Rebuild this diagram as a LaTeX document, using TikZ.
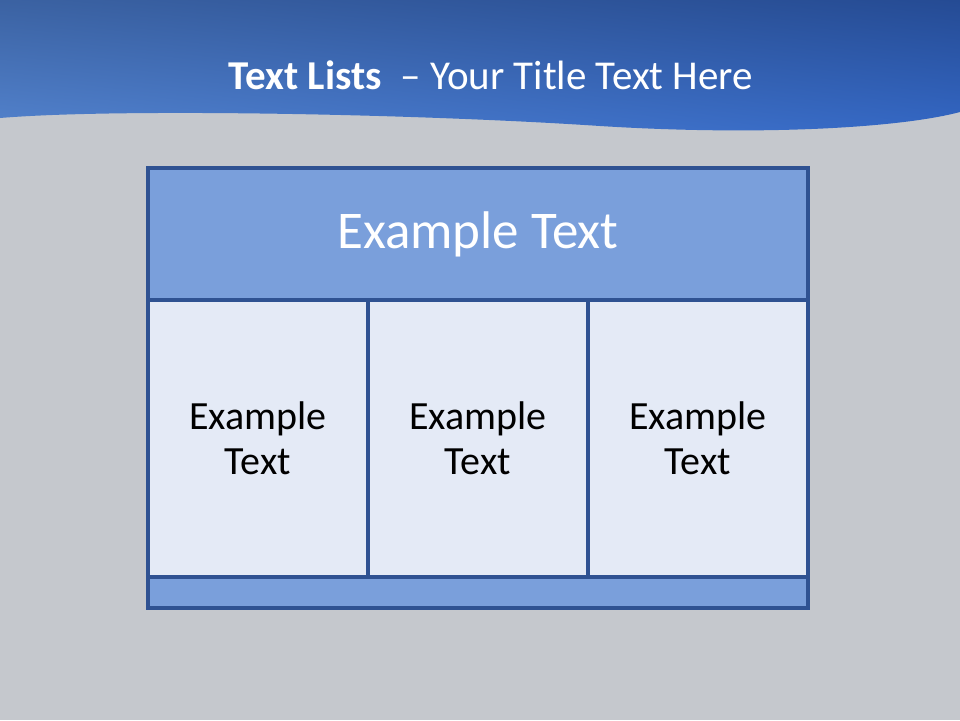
\documentclass[tikz,border=0pt]{standalone}
\usepackage{fontspec}
\setmainfont{Carlito}
\usetikzlibrary{shadings}
\definecolor{slidegray}{HTML}{C5C8CD}
\definecolor{bandtl}{HTML}{3B62A2}
\definecolor{bandtr}{HTML}{254B94}
\definecolor{bandbl}{HTML}{5383CE}
\definecolor{bandbr}{HTML}{3468C6}
\definecolor{gridline}{HTML}{2F5292}
\definecolor{headfill}{HTML}{7A9FDB}
\definecolor{cellfill}{HTML}{E4EAF6}
\tikzset{
  box/.style={draw=gridline, line width=3.2pt, inner sep=0pt},
  headbox/.style={box, fill=headfill, minimum width=660pt, minimum height=132pt,
                  text=white, font=\fontsize{53}{60}\selectfont},
  cellbox/.style={box, fill=cellfill, minimum width=220pt, minimum height=277pt,
                  align=center, font=\fontsize{40}{45}\selectfont},
  footbox/.style={box, fill=headfill, minimum width=660pt, minimum height=31pt},
}
\begin{document}
\begin{tikzpicture}[x=1pt, y=-1pt]
  \useasboundingbox (0,0) rectangle (960,720);
  \fill[slidegray] (0,0) rectangle (960,720);
  % blue band with wave
  \begin{scope}
    \clip (0,0) -- (0,118) .. controls (120,108) and (420,114) .. (600,126)
      .. controls (760,136) and (900,128) .. (960,112) -- (960,0) -- cycle;
    \shade[upper left=bandtl, upper right=bandtr, lower left=bandbl, lower right=bandbr]
      (0,0) rectangle (960,135);
  \end{scope}
  \node[text=white, font=\fontsize{41}{48}\selectfont] (title) at (491,75)
    {\textbf{Text Lists}\ \ – Your Title Text Here};
  % table
  \node[headbox] (head) at (478,234) {Example Text};
  \node[cellbox] (cellA) at (258,438.5) {Example\\Text};
  \node[cellbox] (cellB) at (478,438.5) {Example\\Text};
  \node[cellbox] (cellC) at (698,438.5) {Example\\Text};
  \node[footbox] (foot) at (478,592.5) {};
\end{tikzpicture}
\end{document}
